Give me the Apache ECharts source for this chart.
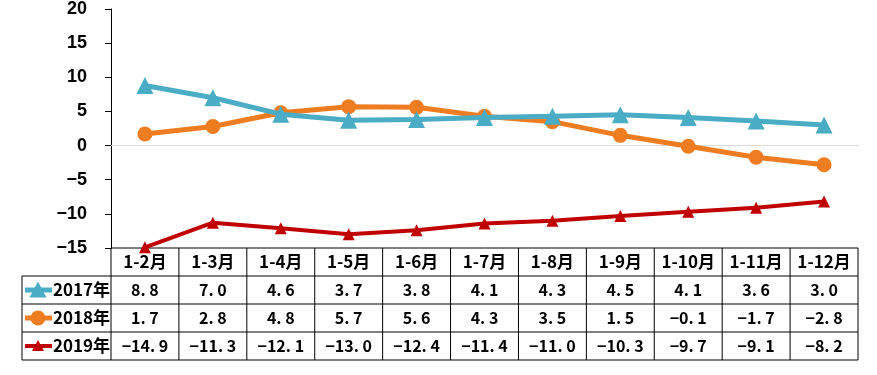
<!DOCTYPE html>
<html><head><meta charset="utf-8">
<script src="https://cdn.jsdelivr.net/npm/echarts@6/dist/echarts.min.js"></script>
<style>html,body{margin:0;padding:0;background:#fff}#c{width:877px;height:375px}</style>
</head><body><div id="c"></div>
<script>
const categories = ['1-2月','1-3月','1-4月','1-5月','1-6月','1-7月','1-8月','1-9月','1-10月','1-11月','1-12月'];
const seriesNames = ['2017年','2018年','2019年'];
const s2017 = [8.8, 7.0, 4.6, 3.7, 3.8, 4.1, 4.3, 4.5, 4.1, 3.6, 3.0];
const s2018 = [1.7, 2.8, 4.8, 5.7, 5.6, 4.3, 3.5, 1.5, -0.1, -1.7, -2.8];
const s2019 = [-14.9, -11.3, -12.1, -13.0, -12.4, -11.4, -11.0, -10.3, -9.7, -9.1, -8.2];
const yTicks = [-15, -10, -5, 0, 5, 10, 15, 20];

const colors = ['#4BACC6', '#EE7D22', '#C00000'];
const symbols = ['triangle', 'circle', 'triangle'];
const symbolSizes = [17, 15, 12];
const widths = [5, 5, 4];
const allData = [s2017, s2018, s2019];

const chart = echarts.init(document.getElementById('c'));
const gridLeft = 111, gridRight = 19, gridTop = 6, gridBottom = 127;
const option = {
  animation: false,
  grid: {left: gridLeft, right: gridRight, top: gridTop, bottom: gridBottom},
  xAxis: {
    type: 'category', data: categories, boundaryGap: true,
    axisLine: {onZero: true, lineStyle: {color: '#d9d9d9', width: 1}},
    axisTick: {show: false}, axisLabel: {show: false}, splitLine: {show: false}
  },
  yAxis: {
    type: 'value', min: yTicks[0], max: yTicks[yTicks.length-1], interval: 5,
    axisLine: {show: true, lineStyle: {color: '#000', width: 1}},
    axisTick: {show: true, inside: false, length: 6, lineStyle: {color: '#000'}},
    splitLine: {show: false},
    axisLabel: {fontFamily: 'Liberation Sans, Arial', fontWeight: 'bold', fontSize: 18, color: '#000', margin: 24,
      formatter: v => (v < 0 ? '\u2212' + Math.abs(v) : String(v))}
  },
  series: allData.map((d, i) => ({
    name: seriesNames[i], type: 'line', data: d,
    symbol: symbols[i], symbolSize: symbolSizes[i],
    lineStyle: {color: colors[i], width: widths[i]},
    itemStyle: {color: colors[i]},
    z: 3 - i
  }))
};
chart.setOption(option);

// Data table below the plot
const W = 877;
const x0 = gridLeft, x1 = W - gridRight;
const colW = (x1 - x0) / categories.length;
const rowH = 28;
const tableTop = 375 - gridBottom;
const legendLeft = 22;
const g = [];
const line = (ax, ay, bx, by) => g.push({type: 'line', shape: {x1: ax, y1: ay, x2: bx, y2: by}, style: {stroke: '#000', lineWidth: 1}, silent: true});
const txt = (x, y, t, size) => g.push({type: 'text', x: x, y: y, style: {text: t, fill: '#000', font: 'bold ' + size + 'px "Noto Sans CJK SC", "Liberation Sans", sans-serif', textAlign: 'center', textVerticalAlign: 'middle'}, silent: true});

line(x0, tableTop, x1, tableTop);
for (let r = 1; r <= 4; r++) line(legendLeft, tableTop + r * rowH, x1, tableTop + r * rowH);
line(legendLeft, tableTop + rowH, legendLeft, tableTop + 4 * rowH);
for (let c = 0; c <= categories.length; c++) line(x0 + c * colW, tableTop, x0 + c * colW, tableTop + 4 * rowH);
categories.forEach((cat, c) => {
  const cx = chart.convertToPixel({xAxisIndex: 0}, c);
  txt(cx, tableTop + rowH / 2, cat, 17);
});
const fmt = v => (v < 0 ? '\u2212' : '') + Math.abs(v).toFixed(1).replace('.', '. ');
allData.forEach((d, i) => {
  const cy = tableTop + (i + 1) * rowH + rowH / 2;
  d.forEach((v, c) => {
    const cx = chart.convertToPixel({xAxisIndex: 0}, c);
    txt(cx, cy, fmt(v), 16);
  });
  g.push({type: 'line', shape: {x1: 25, y1: cy, x2: 52, y2: cy}, style: {stroke: colors[i], lineWidth: widths[i]}, silent: true});
  const ms = symbolSizes[i];
  if (symbols[i] === 'circle') {
    g.push({type: 'circle', shape: {cx: 38, cy: cy, r: ms / 2}, style: {fill: colors[i]}, silent: true});
  } else {
    g.push({type: 'polygon', shape: {points: [[38, cy - ms / 2], [38 + ms / 2, cy + ms / 2 - 1], [38 - ms / 2, cy + ms / 2 - 1]]}, style: {fill: colors[i]}, silent: true});
  }
  g.push({type: 'text', x: 53, y: cy, style: {text: seriesNames[i], fill: '#000', font: 'bold 17px "Noto Sans CJK SC", "Liberation Sans", sans-serif', textAlign: 'left', textVerticalAlign: 'middle'}, silent: true});
});
chart.setOption({graphic: {elements: g}});
</script>
</body></html>
